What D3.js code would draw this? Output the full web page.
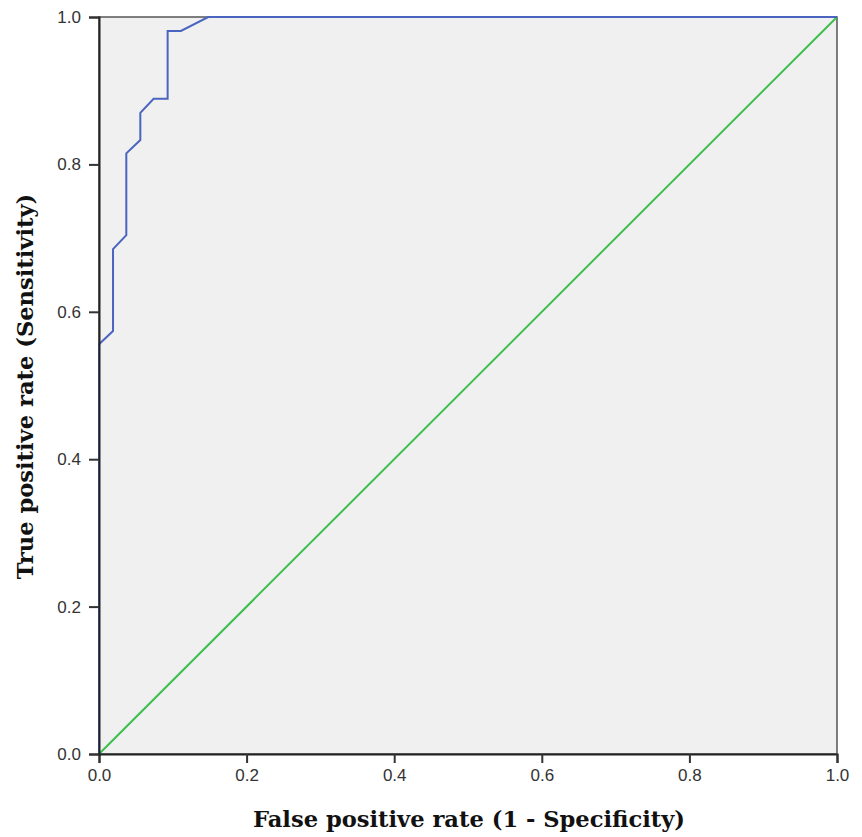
<!DOCTYPE html>
<html>
<head>
<meta charset="UTF-8">
<script src="https://d3js.org/d3.v7.min.js"></script>
<style>
  body { margin: 0; background: #fff; }
  .tick text { font-family: "Liberation Sans", Arial, sans-serif; font-size: 17px; fill: #333; }
  .title { font-family: "DejaVu Serif", serif; font-weight: bold; font-size: 22.6px; fill: #111; }
</style>
</head>
<body>
<svg width="862" height="837"></svg>
<script>
// ROC curve points (1 - specificity, sensitivity)
const fpr = [0, 0, 0.019, 0.019, 0.037, 0.037, 0.056, 0.056, 0.074, 0.093, 0.093, 0.111, 0.148, 1];
const tpr = [0, 0.556, 0.574, 0.685, 0.704, 0.815, 0.833, 0.870, 0.889, 0.889, 0.981, 0.981, 1, 1];
const refLine = [0, 1];
const ticks = [0, 0.2, 0.4, 0.6, 0.8, 1.0];

const svg = d3.select("svg");
const m = { left: 99, right: 837, top: 17, bottom: 754 };

const x = d3.scaleLinear().domain([0, 1]).range([m.left, m.right]);
const y = d3.scaleLinear().domain([0, 1]).range([m.bottom, m.top]);

svg.append("rect")
  .attr("x", x(0)).attr("y", y(1))
  .attr("width", x(1) - x(0)).attr("height", y(0) - y(1))
  .attr("fill", "#f0f0f0")
  .attr("stroke", "#555").attr("stroke-width", 1.5);

// reference diagonal
svg.append("line")
  .attr("x1", x(refLine[0])).attr("y1", y(refLine[0]))
  .attr("x2", x(refLine[1])).attr("y2", y(refLine[1]))
  .attr("stroke", "#3dbe4f").attr("stroke-width", 2);

const pts = fpr.map((d, i) => [d, tpr[i]]);
svg.append("path")
  .datum(pts)
  .attr("fill", "none")
  .attr("stroke", "#4a64c0")
  .attr("stroke-width", 2)
  .attr("d", d3.line().x(d => x(d[0])).y(d => y(d[1])));

const xAxis = svg.append("g")
  .attr("transform", `translate(0,${m.bottom})`)
  .call(d3.axisBottom(x).tickValues(ticks).tickFormat(d3.format(".1f")).tickSize(9).tickPadding(6));
const yAxis = svg.append("g")
  .attr("transform", `translate(${m.left},0)`)
  .call(d3.axisLeft(y).tickValues(ticks).tickFormat(d3.format(".1f")).tickSize(10).tickPadding(8));

[xAxis, yAxis].forEach(a => {
  a.select(".domain").attr("stroke", "#222").attr("stroke-width", 2);
  a.selectAll(".tick line").attr("stroke", "#333").attr("stroke-width", 2);
});

svg.append("text").attr("class", "title")
  .attr("x", (m.left + m.right) / 2 + 1).attr("y", 827)
  .attr("text-anchor", "middle")
  .text("False positive rate (1 - Specificity)");

svg.append("text").attr("class", "title")
  .attr("transform", `translate(33,${(m.top + m.bottom) / 2 + 1}) rotate(-90)`)
  .attr("text-anchor", "middle")
  .text("True positive rate (Sensitivity)");
</script>
</body>
</html>
